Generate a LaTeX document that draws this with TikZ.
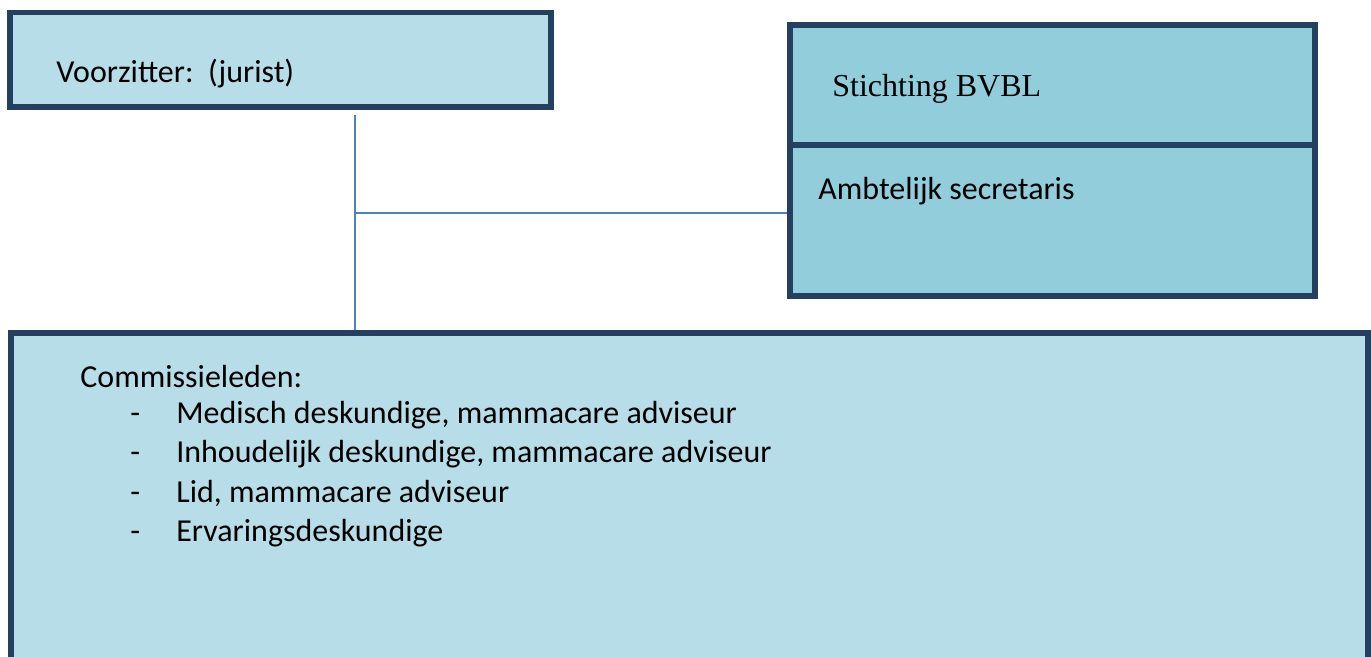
\documentclass[tikz,border=0pt]{standalone}
\usepackage{fontspec}
\setmainfont{Carlito}
\newfontfamily\timesfont{Liberation Serif}
\definecolor{boxlicht}{HTML}{B7DDE8}
\definecolor{boxdonker}{HTML}{92CDDC}
\definecolor{rand}{HTML}{243F60}
\definecolor{lijn}{HTML}{4F81BD}
\begin{document}
\begin{tikzpicture}[
  vak/.style={draw=rand, line width=3pt, fill=boxlicht, rectangle, inner sep=0pt},
  tekst/.style={anchor=base west, inner sep=0pt, font=\fontsize{18.2}{22}\selectfont},
  verbind/.style={draw=lijn, line width=1pt}]
\clip (0,0) rectangle (27.42,-13.14);
\node[vak, minimum width=10.82cm, minimum height=1.89cm] (voorzitter) at (5.61,-1.195) {};
\node[vak, fill=boxdonker, minimum width=10.5cm, minimum height=2.4cm] (stichting) at (21.05,-1.7) {};
\node[vak, fill=boxdonker, minimum width=10.5cm, minimum height=3.02cm] (secretaris) at (21.05,-4.41) {};
\node[vak, minimum width=27.14cm, minimum height=7.34cm] (commissie) at (13.79,-10.33) {};
\node[tekst] (t1) at (1.12,-1.66) {Voorzitter:\ \ (jurist)};
\node[tekst, font=\fontsize{18.2}{22}\selectfont\timesfont] (t2) at (16.64,-1.94) {Stichting BVBL};
\node[tekst] (t3) at (16.36,-4.0) {Ambtelijk secretaris};
\node[tekst] (t4) at (1.6,-7.74) {Commissieleden:};
\node[tekst] (s1) at (2.6,-8.46) {-};
\node[tekst] (l1) at (3.52,-8.46) {Medisch deskundige, mammacare adviseur};
\node[tekst] (s2) at (2.6,-9.24) {-};
\node[tekst] (l2) at (3.52,-9.24) {Inhoudelijk deskundige, mammacare adviseur};
\node[tekst] (s3) at (2.6,-10.04) {-};
\node[tekst] (l3) at (3.52,-10.04) {Lid, mammacare adviseur};
\node[tekst] (s4) at (2.6,-10.82) {-};
\node[tekst] (l4) at (3.52,-10.82) {Ervaringsdeskundige};
\coordinate (boven) at (7.1,-2.3);
\coordinate (knik) at (7.1,-4.26);
\path[verbind] (boven) -- (boven |- commissie.north);
\path[verbind] (knik) -- (knik -| secretaris.west);
\end{tikzpicture}
\end{document}
